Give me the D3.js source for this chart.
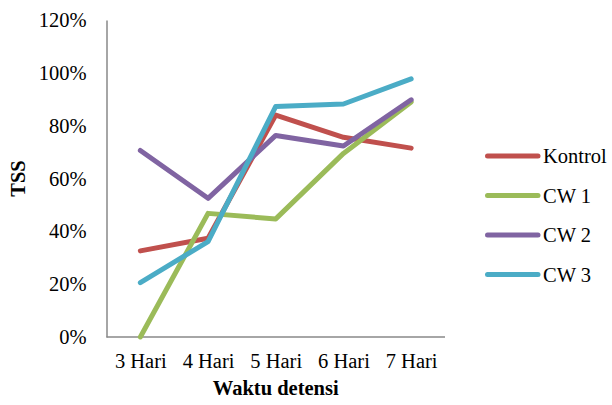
<!DOCTYPE html>
<html>
<head>
<meta charset="utf-8">
<script src="https://cdn.jsdelivr.net/npm/d3@7"></script>
<style>
  html, body { margin: 0; padding: 0; background: #fff; }
  svg { display: block; font-family: "Liberation Serif", "Times New Roman", serif; }
</style>
</head>
<body>
<svg id="chart" width="612" height="405"></svg>
<script>
// Detention time categories
const categories = ["3 Hari", "4 Hari", "5 Hari", "6 Hari", "7 Hari"];

// TSS removal per treatment (fraction)
const kontrol = [0.326, 0.374, 0.84, 0.756, 0.715];
const cw1     = [0.0, 0.468, 0.447, 0.695, 0.89];
const cw2     = [0.706, 0.525, 0.763, 0.723, 0.898];
const cw3     = [0.206, 0.361, 0.873, 0.882, 0.977];

const seriesNames  = ["Kontrol", "CW 1", "CW 2", "CW 3"];
const seriesValues = [kontrol, cw1, cw2, cw3];
const seriesColors = ["#C0504D", "#9BBB59", "#8064A2", "#4BACC6"];

const yTicks = [0, 0.2, 0.4, 0.6, 0.8, 1.0, 1.2];

const serif = "'Liberation Serif', 'Times New Roman', serif";
const svg = d3.select("#chart");
const plot = { left: 106.5, right: 445, top: 20, bottom: 337 };

const x = d3.scalePoint()
  .domain(categories)
  .range([plot.left, plot.right])
  .padding(0.5);

const y = d3.scaleLinear()
  .domain([0, 1.2])
  .range([plot.bottom, plot.top]);

// Y axis: labels only, plus a gray spine
const yAxis = svg.append("g")
  .attr("transform", `translate(${plot.left},0)`)
  .call(d3.axisLeft(y).tickValues(yTicks).tickFormat(d3.format(".0%")).tickSize(0).tickPadding(20));
yAxis.attr("font-family", serif);
yAxis.select(".domain").attr("stroke", "#898989").attr("stroke-width", 1.5);
yAxis.selectAll("text").attr("font-size", 20.5).attr("fill", "#000");

// X axis
const xAxis = svg.append("g")
  .attr("transform", `translate(0,${plot.bottom})`)
  .call(d3.axisBottom(x).tickSize(0).tickPadding(16));
xAxis.attr("font-family", serif);
xAxis.select(".domain").attr("stroke", "#898989").attr("stroke-width", 1.5)
  .attr("d", `M${plot.left},0H${plot.right}`);
xAxis.selectAll("text").attr("font-size", 20.5).attr("fill", "#000");

// Axis titles
svg.append("text")
  .attr("x", (plot.left + plot.right) / 2)
  .attr("y", 395)
  .attr("text-anchor", "middle")
  .attr("font-size", 20.5)
  .attr("font-weight", "bold")
  .text("Waktu detensi");

svg.append("text")
  .attr("transform", `translate(25,${(plot.top + plot.bottom) / 2}) rotate(-90)`)
  .attr("text-anchor", "middle")
  .attr("font-size", 20.5)
  .attr("font-weight", "bold")
  .text("TSS");

// Series lines
const line = d3.line()
  .x((d, i) => x(categories[i]))
  .y(d => y(d));

seriesValues.forEach((vals, k) => {
  svg.append("path")
    .datum(vals)
    .attr("fill", "none")
    .attr("stroke", seriesColors[k])
    .attr("stroke-width", 5)
    .attr("stroke-linecap", "round")
    .attr("stroke-linejoin", "round")
    .attr("d", line);
});

// Legend
const legend = svg.append("g").attr("transform", "translate(485,156)");
seriesNames.forEach((name, k) => {
  const g = legend.append("g").attr("transform", `translate(0,${k * 39.5})`);
  g.append("line")
    .attr("x1", 2.5).attr("x2", 53)
    .attr("stroke", seriesColors[k])
    .attr("stroke-width", 5)
    .attr("stroke-linecap", "round");
  g.append("text")
    .attr("x", 58)
    .attr("y", 0)
    .attr("dy", "0.35em")
    .attr("font-size", 20.5)
    .text(name);
});
</script>
</body>
</html>
